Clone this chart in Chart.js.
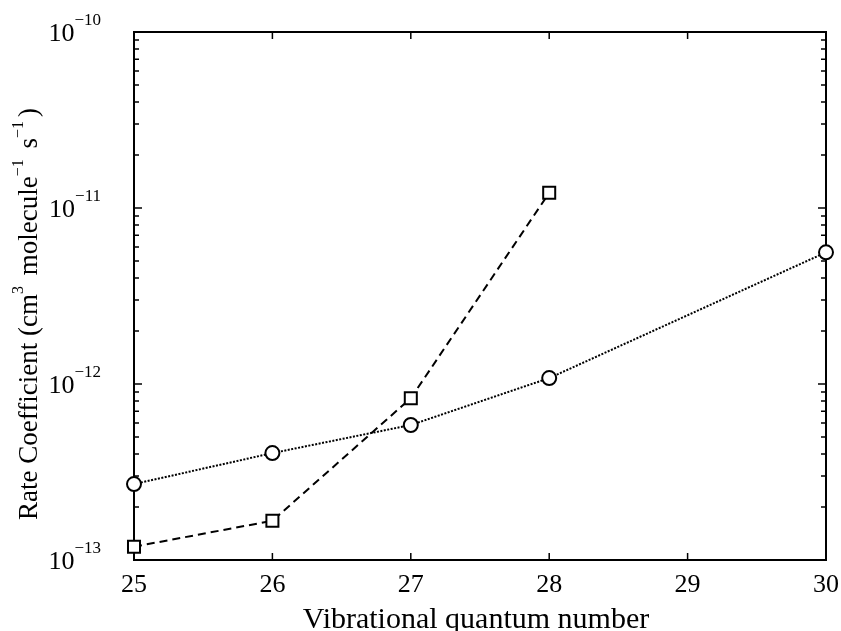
<!DOCTYPE html>
<html>
<head>
<meta charset="utf-8">
<script src="https://cdn.jsdelivr.net/npm/chart.js@4.4.1/dist/chart.umd.min.js"></script>
<style>
  html, body { margin: 0; padding: 0; background: #fff; }
  #wrap { width: 841px; height: 631px; }
</style>
</head>
<body>
<div id="wrap"><canvas id="c" width="841" height="631"></canvas></div>
<script>
// values
const circleX = [25, 26, 27, 28, 30];
const circleY = [2.7e-13, 4.05e-13, 5.85e-13, 1.08e-12, 5.6e-12];
const squareX = [25, 26, 27, 28];
const squareY = [1.19e-13, 1.67e-13, 8.3e-13, 1.22e-11];

const xTicks = [25, 26, 27, 28, 29, 30];
const yDecades = [-13, -12, -11, -10];

const FONT = '"Liberation Serif", "Times New Roman", serif';

function pts(xs, ys){ return xs.map((x, i) => ({ x: x, y: ys[i] })); }

// draws "10" with a raised exponent, right aligned at xr
function drawPow(ctx, xr, yv, exp){
  const sup = "\u2212" + Math.abs(exp);
  ctx.font = "26px " + FONT;
  const wb = ctx.measureText("10").width;
  ctx.font = "17px " + FONT;
  const ws = ctx.measureText(sup).width;
  const x0 = xr - wb - ws;
  ctx.textAlign = "left";
  ctx.textBaseline = "alphabetic";
  ctx.font = "26px " + FONT;
  ctx.fillText("10", x0, yv + 9);
  ctx.font = "17px " + FONT;
  ctx.fillText(sup, x0 + wb, yv - 7);
}

const framePlugin = {
  id: "frame",
  beforeDatasetsDraw(chart){
    const { ctx, chartArea: a, scales } = chart;
    ctx.save();
    ctx.strokeStyle = "#000";
    ctx.lineWidth = 2;
    ctx.strokeRect(a.left, a.top, a.right - a.left, a.bottom - a.top);
    ctx.lineWidth = 1.5;
    ctx.beginPath();
    // x ticks, top and bottom
    xTicks.forEach(v => {
      const px = scales.x.getPixelForValue(v);
      ctx.moveTo(px, a.bottom); ctx.lineTo(px, a.bottom - 7);
      ctx.moveTo(px, a.top); ctx.lineTo(px, a.top + 7);
    });
    // y ticks, left and right, major and minor
    for (let d = -13; d < -10; d++){
      for (let m = 1; m <= 9; m++){
        const py = scales.y.getPixelForValue(m * Math.pow(10, d));
        const len = m === 1 ? 8 : 5;
        ctx.moveTo(a.left, py); ctx.lineTo(a.left + len, py);
        ctx.moveTo(a.right, py); ctx.lineTo(a.right - len, py);
      }
    }
    ctx.stroke();
    ctx.restore();
  },
  afterDraw(chart){
    const { ctx, chartArea: a, scales } = chart;
    ctx.save();
    ctx.fillStyle = "#000";
    // x tick labels
    ctx.font = "26px " + FONT;
    ctx.textAlign = "center";
    ctx.textBaseline = "alphabetic";
    xTicks.forEach(v => {
      ctx.fillText(String(v), scales.x.getPixelForValue(v), 592);
    });
    // y tick labels
    yDecades.forEach(d => {
      drawPow(ctx, 101, scales.y.getPixelForValue(Math.pow(10, d)), d);
    });
    // x title
    ctx.font = "30px " + FONT;
    ctx.textAlign = "center";
    ctx.fillText("Vibrational quantum number", 476, 628);
    // y title, rotated, with superscripts
    const parts = [
      ["Rate Coefficient (cm", false], ["3", true], [" molecule", false],
      ["\u22121", true], [" s", false], ["\u22121", true], [")", false]
    ];
    const fMain = "27px " + FONT, fSup = "16px " + FONT;
    let total = 0;
    parts.forEach(p => { ctx.font = p[1] ? fSup : fMain; total += ctx.measureText(p[0]).width + (p[1] ? 4 : 0); });
    ctx.translate(37, 314);
    ctx.rotate(-Math.PI / 2);
    ctx.textAlign = "left";
    let x = -total / 2;
    parts.forEach(p => {
      ctx.font = p[1] ? fSup : fMain;
      ctx.fillText(p[0], x, p[1] ? -14 : 0);
      x += ctx.measureText(p[0]).width + (p[1] ? 4 : 0);
    });
    ctx.restore();
  }
};

new Chart(document.getElementById("c"), {
  type: "line",
  data: {
    datasets: [
      {
        label: "circles",
        data: pts(circleX, circleY),
        borderColor: "#000",
        borderWidth: 2,
        borderDash: [2, 1.5],
        pointStyle: "circle",
        pointRadius: 7,
        pointBorderWidth: 2,
        pointBackgroundColor: "#fff",
        pointBorderColor: "#000",
        tension: 0,
        clip: false
      },
      {
        label: "squares",
        data: pts(squareX, squareY),
        borderColor: "#000",
        borderWidth: 2,
        borderDash: [8, 5],
        pointStyle: "rect",
        pointRadius: 8.5,
        pointBorderWidth: 2,
        pointBackgroundColor: "#fff",
        pointBorderColor: "#000",
        tension: 0,
        clip: false
      }
    ]
  },
  options: {
    responsive: false,
    animation: false,
    layout: { padding: { left: 134, right: 15, top: 32, bottom: 71 } },
    plugins: { legend: { display: false }, tooltip: { enabled: false } },
    scales: {
      x: {
        type: "linear", min: 25, max: 30,
        ticks: { display: false },
        grid: { display: false },
        border: { display: false },
        afterFit(s){ s.height = 0; }
      },
      y: {
        type: "logarithmic", min: 1e-13, max: 1e-10,
        ticks: { display: false },
        grid: { display: false },
        border: { display: false },
        afterFit(s){ s.width = 0; }
      }
    }
  },
  plugins: [framePlugin]
});
</script>
</body>
</html>
